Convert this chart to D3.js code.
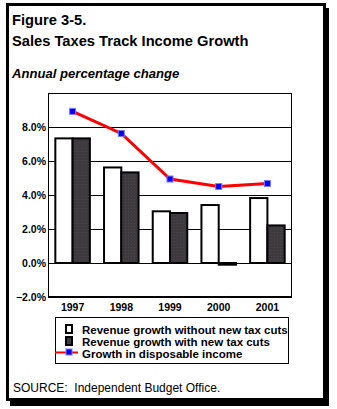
<!DOCTYPE html>
<html>
<head>
<meta charset="utf-8">
<script src="https://cdn.jsdelivr.net/npm/d3@7"></script>
<style>
  body { margin: 0; background: #fff; }
  svg { display: block; font-family: "Liberation Sans", Arial, sans-serif; }
</style>
</head>
<body>
<div id="chart"></div>
<script>
// Data
const years = ["1997", "1998", "1999", "2000", "2001"];
const withoutCuts = [7.33, 5.62, 3.04, 3.41, 3.82];
const withCuts = [7.33, 5.33, 2.94, -0.1, 2.21];
const incomeGrowth = [8.92, 7.62, 4.94, 4.5, 4.68];
const yTicks = [-2, 0, 2, 4, 6, 8];
const gridValues = [-2, 0, 2, 4, 6, 8, 10];
const legendLabels = [
  "Revenue growth without new tax cuts",
  "Revenue growth with new tax cuts",
  "Growth in disposable income"
];

const width = 337, height = 409;
const plot = { left: 48, right: 292, top: 93, bottom: 297 };
const darkFill = "#3d393d";

const svg = d3.select("#chart").append("svg")
  .attr("width", width)
  .attr("height", height);

// dotted texture for the dark bars
const pat = svg.append("defs").append("pattern")
  .attr("id", "dots")
  .attr("width", 3).attr("height", 3)
  .attr("patternUnits", "userSpaceOnUse");
pat.append("rect").attr("width", 3).attr("height", 3).attr("fill", darkFill);
pat.append("rect").attr("x", 1).attr("y", 1).attr("width", 1).attr("height", 1).attr("fill", "#4f4753");

// framed panel with drop shadow
svg.append("rect").attr("x", 10).attr("y", 8).attr("width", 319).attr("height", 398).attr("fill", "#000");
svg.append("rect").attr("x", 6).attr("y", 3).attr("width", 320).attr("height", 398).attr("fill", "#000");
svg.append("rect").attr("x", 9).attr("y", 6).attr("width", 314).attr("height", 392).attr("fill", "#fff");

// titles
svg.append("text").attr("x", 12).attr("y", 24.5)
  .attr("font-size", 14.7).attr("font-weight", "bold").text("Figure 3-5.");
svg.append("text").attr("x", 12).attr("y", 45.5)
  .attr("font-size", 14.7).attr("font-weight", "bold").text("Sales Taxes Track Income Growth");
svg.append("text").attr("x", 12).attr("y", 78)
  .attr("font-size", 13.1).attr("font-weight", "bold").attr("font-style", "italic")
  .text("Annual percentage change");

// scales
const x = d3.scaleBand()
  .domain(years)
  .range([plot.left, plot.right])
  .paddingInner(0.25)
  .paddingOuter(0.13);

const y = d3.scaleLinear()
  .domain([-2, 10])
  .range([plot.bottom, plot.top]);

const barW = x.bandwidth() / 2;

// gridlines
svg.append("g").selectAll("line")
  .data(gridValues)
  .join("line")
  .attr("x1", plot.left).attr("x2", plot.right)
  .attr("y1", d => Math.round(y(d)) + 0.5)
  .attr("y2", d => Math.round(y(d)) + 0.5)
  .attr("stroke", "#000")
  .attr("stroke-width", 1);

// plot border
svg.append("rect")
  .attr("x", plot.left + 0.5).attr("y", plot.top + 0.5)
  .attr("width", plot.right - plot.left - 1)
  .attr("height", plot.bottom - plot.top - 1)
  .attr("fill", "none").attr("stroke", "#000");

// bars: white = without cuts, dark = with cuts
const groups = svg.append("g").selectAll("g")
  .data(years)
  .join("g")
  .attr("transform", d => `translate(${x(d)},0)`);

groups.append("rect")
  .attr("x", 1)
  .attr("y", (d, i) => y(Math.max(0, withoutCuts[i])))
  .attr("width", barW - 1)
  .attr("height", (d, i) => Math.abs(y(withoutCuts[i]) - y(0)))
  .attr("fill", "#fff")
  .attr("stroke", "#000")
  .attr("stroke-width", 2);

groups.append("rect")
  .attr("x", barW)
  .attr("y", (d, i) => y(Math.max(0, withCuts[i])))
  .attr("width", barW - 1)
  .attr("height", (d, i) => Math.abs(y(withCuts[i]) - y(0)))
  .attr("fill", "url(#dots)")
  .attr("stroke", "#000")
  .attr("stroke-width", 2);

// income growth line
const cx = d => x(d) + x.bandwidth() / 2;
const line = d3.line()
  .x((d, i) => cx(years[i]))
  .y(d => y(d));

svg.append("path")
  .datum(incomeGrowth)
  .attr("d", line)
  .attr("fill", "none")
  .attr("stroke", "#ff0000")
  .attr("stroke-width", 3);

svg.append("g").selectAll("rect")
  .data(incomeGrowth)
  .join("rect")
  .attr("x", (d, i) => cx(years[i]) - 3)
  .attr("y", d => y(d) - 3)
  .attr("width", 6).attr("height", 6)
  .attr("fill", "#0000ee")
  .attr("stroke", "#7777ff")
  .attr("stroke-width", 1);

// axes
const yAxis = svg.append("g")
  .attr("transform", `translate(${plot.left},0)`)
  .call(d3.axisLeft(y).tickValues(yTicks).tickSize(0).tickPadding(2)
    .tickFormat(d => d3.format(".1f")(d) + "%"));
yAxis.select(".domain").remove();
yAxis.selectAll("text")
  .attr("font-family", "Liberation Sans, Arial, sans-serif")
  .attr("font-size", 10.5).attr("font-weight", "bold").attr("fill", "#000");

const xAxis = svg.append("g")
  .attr("transform", `translate(0,${plot.bottom})`)
  .call(d3.axisBottom(x).tickSize(0).tickPadding(7));
xAxis.select(".domain").remove();
xAxis.selectAll("text")
  .attr("font-family", "Liberation Sans, Arial, sans-serif")
  .attr("font-size", 10.5).attr("font-weight", "bold").attr("fill", "#000");

// legend
const legend = svg.append("g");
legend.append("rect")
  .attr("x", 55.5).attr("y", 317.5).attr("width", 233).attr("height", 46)
  .attr("fill", "#fff").attr("stroke", "#000");

const rowY = [333.5, 345.5, 357.5];
legend.append("rect")
  .attr("x", 66).attr("y", 325).attr("width", 6).attr("height", 8)
  .attr("fill", "#fff").attr("stroke", "#000").attr("stroke-width", 2);
legend.append("rect")
  .attr("x", 66).attr("y", 337).attr("width", 6).attr("height", 8)
  .attr("fill", "url(#dots)").attr("stroke", "#000").attr("stroke-width", 2);
legend.append("line")
  .attr("x1", 55).attr("x2", 78).attr("y1", 352.5).attr("y2", 352.5)
  .attr("stroke", "#ff0000").attr("stroke-width", 2);
legend.append("rect")
  .attr("x", 66).attr("y", 349).attr("width", 6).attr("height", 6)
  .attr("fill", "#0000ee").attr("stroke", "#7777ff");

legend.selectAll("text.lab")
  .data(legendLabels)
  .join("text")
  .attr("class", "lab")
  .attr("x", 82)
  .attr("y", (d, i) => rowY[i])
  .attr("font-size", 11.5).attr("font-weight", "bold")
  .text(d => d);

// source note
svg.append("text")
  .attr("x", 13).attr("y", 391.5)
  .attr("font-size", 12)
  .attr("xml:space", "preserve")
  .style("white-space", "pre")
  .text("SOURCE:  Independent Budget Office.");
</script>
</body>
</html>
